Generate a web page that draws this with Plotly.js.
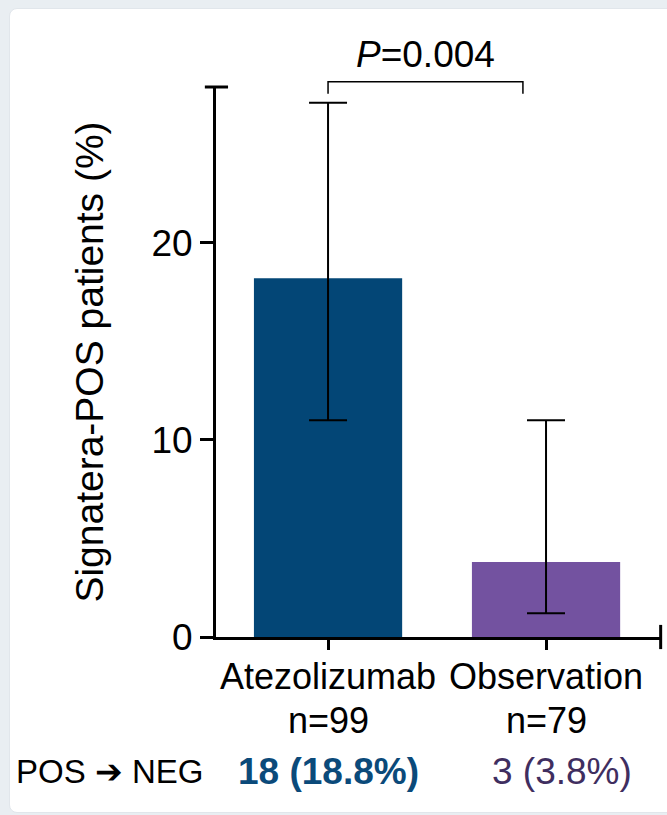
<!DOCTYPE html>
<html>
<head>
<meta charset="utf-8">
<script src="https://cdn.plot.ly/plotly-3.0.1.min.js"></script>
<style>
  html, body { margin: 0; padding: 0; width: 667px; height: 815px; overflow: hidden; background: #e9eef2; }
  #card { position: absolute; left: 9px; top: 8px; width: 680px; height: 803px; background: #ffffff; border-radius: 8px; border: 1px solid #e1e6eb; }
  #chart { position: absolute; left: 0; top: 0; width: 667px; height: 815px; }
</style>
</head>
<body>
<div id="card"></div>
<div id="chart"></div>
<script>
// ---- data ----
var categories = ["Atezolizumab", "Observation"];
var nLabels = ["n=99", "n=79"];
var posPct = [18.2, 3.8];          // Signatera-POS patients (%)
var ciLow = [11.0, 1.2];
var ciHigh = [27.1, 11.0];
var summaryLabel = "POS \u2794 NEG";
var summaryText = ["18 (18.8%)", "3 (3.8%)"];
var pText = "<i>P</i>=0.004";
var yTicks = [0, 10, 20];

var xIdx = categories.map(function (c, i) { return i; });
var errPlus = posPct.map(function (v, i) { return ciHigh[i] - v; });
var errMinus = posPct.map(function (v, i) { return v - ciLow[i]; });

var xRange = [-0.514, 1.532];
var yRange = [0, 27.9];
function xd(x) { return (x - xRange[0]) / (xRange[1] - xRange[0]); }
function yd(y) { return (y - yRange[0]) / (yRange[1] - yRange[0]); }

var font = "Liberation Sans, Arial, sans-serif";

var trace = {
  type: "bar",
  x: xIdx,
  y: posPct,
  width: 0.68,
  marker: { color: ["#034676", "#7352a0"], line: { width: 0 } },
  error_y: { type: "data", symmetric: false, array: errPlus, arrayminus: errMinus,
             color: "#000000", thickness: 2, width: 19 },
  hoverinfo: "skip"
};

var bracketY = 28.17, bracketDrop = 27.56, bracketX0 = 0, bracketX1 = 0.894;

var nAnnots = nLabels.map(function (t, i) {
  return { xref: "x", yref: "paper", x: xIdx[i], y: -0.152, xanchor: "center", yanchor: "middle",
           text: t, showarrow: false, font: { size: 36, family: font, color: "#000000" } };
});

var layout = {
  width: 667, height: 815,
  margin: { l: 216, r: 5, t: 87, b: 178 },
  paper_bgcolor: "rgba(0,0,0,0)",
  plot_bgcolor: "rgba(0,0,0,0)",
  showlegend: false,
  font: { family: font, color: "#000000", size: 36 },
  xaxis: {
    range: xRange, tickmode: "array", tickvals: xIdx, ticktext: categories,
    showline: true, linecolor: "#000000", linewidth: 3,
    ticks: "outside", ticklen: 10, tickwidth: 3, tickcolor: "#000000",
    ticklabelstandoff: -4,
    showgrid: false, zeroline: false, fixedrange: true,
    tickfont: { size: 36, family: font, color: "#000000" }
  },
  yaxis: {
    range: yRange, tickmode: "array", tickvals: yTicks,
    showline: true, linecolor: "#000000", linewidth: 3,
    ticks: "outside", ticklen: 13, tickwidth: 3, tickcolor: "#000000",
    showgrid: false, zeroline: false, fixedrange: true,
    tickfont: { size: 37, family: font, color: "#000000" },
    title: { text: "Signatera-POS patients (%)", font: { size: 39, family: font, color: "#000000" }, standoff: 36 }
  },
  shapes: [
    { type: "line", xref: "paper", yref: "y domain", x0: -0.025, x1: 0.027, y0: 1, y1: 1,
      line: { color: "#000000", width: 3 } },
    { type: "line", xref: "x domain", yref: "y domain", x0: 0.997, x1: 0.997, y0: -0.022, y1: 0.022,
      line: { color: "#000000", width: 3 } },
    { type: "path", xref: "x domain", yref: "y domain",
      path: "M " + xd(bracketX0) + " " + yd(bracketDrop) + " L " + xd(bracketX0) + " " + yd(bracketY) +
            " L " + xd(bracketX1) + " " + yd(bracketY) + " L " + xd(bracketX1) + " " + yd(bracketDrop),
      line: { color: "#000000", width: 1.5 } }
  ],
  annotations: [
    { xref: "x", yref: "paper", x: (bracketX0 + bracketX1) / 2, y: yd(bracketY) + 0.008, yanchor: "bottom",
      text: pText, showarrow: false, font: { size: 37, family: font, color: "#000000" } },
    { xref: "paper", yref: "paper", x: -0.452, y: -0.245, xanchor: "left", yanchor: "middle",
      text: summaryLabel, showarrow: false, font: { size: 33, family: font, color: "#000000" } },
    { xref: "x", yref: "paper", x: 0, y: -0.245, xanchor: "center", yanchor: "middle",
      text: "<b>" + summaryText[0] + "</b>", showarrow: false, font: { size: 37, family: font, color: "#0b4a7a" } },
    { xref: "x", yref: "paper", x: 1.073, y: -0.245, xanchor: "center", yanchor: "middle",
      text: summaryText[1], showarrow: false, font: { size: 37, family: font, color: "#3f2e5f" } }
  ].concat(nAnnots)
};

Plotly.newPlot("chart", [trace], layout, { displayModeBar: false, staticPlot: true });
</script>
</body>
</html>
